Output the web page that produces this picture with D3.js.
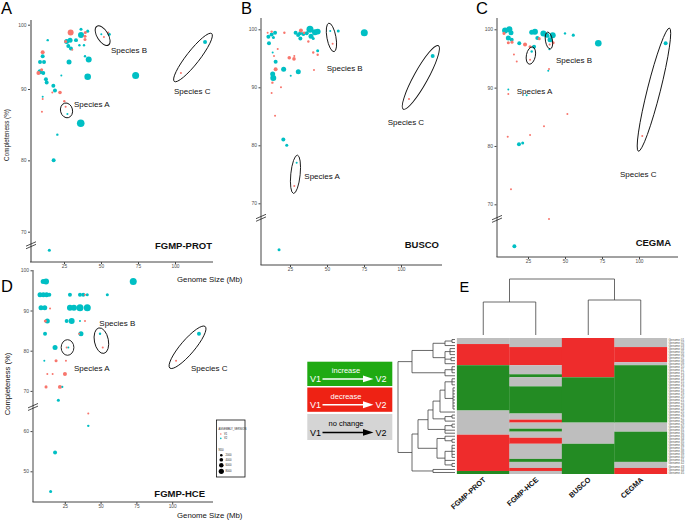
<!DOCTYPE html>
<html><head><meta charset="utf-8">
<script src="https://cdn.jsdelivr.net/npm/d3@7"></script>
<style>body{margin:0;background:#fff}svg{display:block;font-family:"Liberation Sans",Arial,sans-serif}</style>
</head><body><svg id="c" width="685" height="522"></svg>
<script>
// ---------- DATA ----------
// [genome size (Mb), completeness (%), N50, assembly version (1=V1,2=V2), species tag]
const protPoints = [
 [36.5,98.4,10600,2,''],[29.5,98.8,10600,1,''],[26.8,97.4,7400,2,''],[29.1,97.6,7400,2,''],
 [27.9,96.7,4700,2,''],[26.1,97.4,2700,1,''],[29.7,96.3,4700,2,''],[28.4,94.2,7400,2,''],
 [33.1,97.6,4700,2,''],[36.5,99.3,2700,2,''],[41.0,99.0,2700,2,''],[39.2,97.7,2700,1,''],
 [39.2,98.2,2700,1,''],[35.4,96.8,1700,2,''],[38.5,96.8,1700,2,''],[41.7,94.6,10600,2,''],
 [39.2,95.1,1700,2,''],[41.0,91.9,12900,2,''],[73.4,92.1,14500,2,''],[36.3,85.2,17000,2,''],
 [14.0,97.6,1700,2,''],[10.6,95.7,4700,1,''],[10.6,95.1,4700,2,''],[8.8,94.2,4700,2,''],
 [11.5,94.2,4700,2,''],[9.9,93.0,2700,1,''],[8.8,92.7,7400,2,''],[11.0,92.5,4700,2,''],
 [7.7,92.5,4700,1,''],[12.8,91.5,4700,2,''],[13.3,91.0,4700,2,''],[10.6,88.9,1200,2,''],
 [10.6,88.6,1200,1,''],[10.1,86.8,1200,1,''],[17.8,90.5,4700,2,''],[18.9,89.8,4700,2,''],
 [22.3,89.5,3800,1,''],[17.1,89.5,1200,1,''],[23.2,92.1,1200,2,''],[25.2,88.3,1700,1,''],
 [26.1,87.5,1200,1,'A'],[27.3,86.5,1200,2,'A'],[20.5,83.6,1700,2,''],[18.0,80.0,4700,2,''],
 [15.1,67.4,2700,2,''],[50.2,98.5,1200,2,'B'],[52.0,98.1,1200,1,'B'],[55.6,98.5,2700,2,''],
 [54.9,98.8,1200,1,''],[104.0,92.5,1200,1,'C'],[120.3,97.3,4700,2,'C'],[39.4,98.8,2700,1,''],
 [30.6,96.1,1200,1,'']
];
const buscoPoints = [
 [38.5,100.0,14500,2,''],[41.9,99.5,10600,2,''],[43.7,99.6,10600,2,''],[39.2,98.8,7400,2,''],
 [36.3,99.3,4700,2,''],[31.8,99.3,4700,2,''],[28.8,99.4,4700,2,''],[32.0,98.4,4700,2,''],
 [32.4,99.8,4700,1,''],[34.5,99.4,1700,1,''],[37.4,97.9,1700,1,''],[40.7,98.4,2700,2,''],
 [75.2,99.4,14500,2,''],[57.6,99.7,2700,2,''],[52.2,99.7,1200,2,'B'],[53.8,97.5,1200,1,'B'],
 [43.7,96.3,2700,2,''],[43.7,95.6,1700,1,''],[40.7,96.0,1700,1,''],[41.2,93.0,1200,1,''],
 [10.4,98.7,4700,2,''],[12.6,99.1,4700,2,''],[14.9,99.4,4700,2,''],[13.8,98.6,2700,2,''],
 [12.6,99.6,1700,1,''],[10.8,97.6,4700,2,''],[21.2,99.4,1700,1,''],[13.3,96.0,1200,2,''],
 [14.2,95.4,1200,1,''],[15.3,94.4,4700,2,''],[16.7,96.6,1200,1,''],[24.5,95.1,3800,1,''],
 [27.7,94.9,3800,1,''],[27.9,95.4,1200,1,''],[20.7,93.1,7400,2,''],[15.3,93.1,4700,1,''],
 [13.3,92.3,7400,2,''],[13.7,91.6,10600,2,''],[30.6,92.7,7400,2,''],[25.5,92.0,1200,2,''],
 [13.1,90.8,1700,1,''],[18.9,90.0,1200,1,''],[12.6,89.0,1200,1,''],[14.9,85.1,1200,1,''],
 [20.5,81.0,4700,2,''],[22.8,80.0,2700,2,''],[29.5,77.0,1200,2,'A'],[27.9,73.0,1200,1,'A'],
 [17.6,62.0,2700,2,''],[121.4,95.4,4700,2,'C'],[105.4,88.0,1200,1,'C'],[9.9,99.4,1200,1,''],
 [30.5,99.0,4700,2,''],[34.0,99.2,4700,2,'']
];
const cegmaPoints = [
 [9.5,99.8,10600,2,''],[12.4,100.0,10600,2,''],[13.5,99.4,7400,2,''],[11.7,98.5,7400,2,''],
 [14.0,98.2,4700,2,''],[8.8,99.3,2700,1,''],[11.7,97.7,2700,1,''],[14.2,97.8,2700,1,''],
 [19.1,97.6,4700,2,''],[23.0,97.4,4700,1,''],[26.4,97.0,2700,1,''],[27.5,99.5,7400,2,''],
 [29.7,99.6,10600,2,''],[31.3,98.5,4700,2,''],[29.1,97.0,4700,2,''],[32.6,98.4,2700,1,''],
 [35.4,99.3,10600,2,''],[37.6,99.0,7400,2,''],[39.9,98.2,7400,2,''],[41.7,99.0,10600,2,''],
 [38.7,98.75,1700,2,'B'],[39.6,97.4,1200,1,'B'],[42.0,97.7,2700,1,''],[39.4,96.6,1200,2,''],
 [50.0,99.3,1700,2,''],[55.6,99.0,2700,2,''],[72.5,97.6,12900,2,''],[27.5,96.2,1700,2,'A'],
 [26.4,94.8,1200,1,'A'],[15.5,95.7,1200,1,''],[17.4,94.5,1200,1,''],[38.7,92.9,1200,2,''],
 [39.2,93.2,1200,1,''],[11.7,89.7,1200,2,''],[11.7,88.9,1200,1,''],[24.1,88.7,1200,2,''],
 [51.6,85.5,1200,1,''],[35.8,83.4,1200,1,''],[26.4,81.9,1200,1,''],[11.3,81.6,1200,1,''],
 [18.9,80.3,4700,2,''],[21.4,80.5,2700,2,''],[13.5,72.6,1200,1,''],[39.2,67.5,1200,1,''],
 [15.8,62.8,4700,2,''],[118.0,97.6,4700,2,'C'],[102.2,81.7,1200,1,'C']
];
const hcePoints = [
 [11.9,97.2,10600,2,''],[9.9,97.2,7400,2,''],[7.7,93.9,7400,2,''],[10.0,93.9,7400,2,''],
 [12.3,93.9,7400,2,''],[14.2,93.9,4700,2,''],[8.4,90.7,7400,2,''],[11.0,90.7,7400,2,''],
 [14.7,90.5,1200,1,''],[11.4,87.4,2700,1,''],[12.8,87.4,7400,2,''],[11.2,84.2,4700,2,''],
 [18.2,80.8,7400,2,''],[26.3,80.8,1200,1,'A'],[27.5,80.8,1200,2,'A'],[10.7,77.5,1200,2,''],
 [18.9,77.5,2700,1,''],[25.8,77.5,1200,1,''],[12.8,74.2,1200,1,''],[16.5,74.2,1200,1,''],
 [25.1,74.2,4700,1,''],[11.9,71.0,2700,1,''],[21.6,71.0,4700,1,''],[23.3,71.0,1200,2,''],
 [20.5,67.7,2700,2,''],[28.6,93.9,4700,2,''],[35.6,93.9,4700,2,''],[37.9,93.9,4700,2,''],
 [39.1,93.9,1200,1,''],[40.7,93.9,2700,2,''],[28.6,90.7,10600,2,''],[31.4,90.7,10600,2,''],
 [35.6,90.7,14500,2,''],[40.7,90.7,14500,2,''],[29.8,87.4,10600,2,''],[26.3,87.4,4700,2,''],
 [35.6,87.4,1200,2,''],[39.1,87.4,1200,1,''],[36.3,84.2,7400,2,''],[35.0,84.2,1200,1,''],
 [54.7,93.9,2700,2,''],[72.8,97.2,14500,2,''],[49.6,84.2,1700,2,'B'],[51.5,80.8,1200,1,'B'],
 [41.4,64.4,1200,1,''],[41.4,61.3,1700,2,''],[18.2,54.7,4700,2,''],[15.1,45.0,2700,2,''],
 [118.7,84.2,4700,2,'C'],[102.7,77.5,1200,1,'C']
];
const xTickVals = [25,50,75,100];
const yTicksTop = [70,80,90,100];
const yTicksHce = [50,60,70,80,90,100];
const versionLabels = ['V1','V2'];
const n50Legend = [2000,4000,6000,8000];

// heatmap: 1 = increase, -1 = decrease, 0 = no change
const hmCols = ['FGMP-PROT','FGMP-HCE','BUSCO','CEGMA'];
const hmProt  = [0,0,-1,-1,-1,-1,-1,-1,-1,1,1,1,1,1,1,1,1,1,1,1,1,1,1,1,0,0,0,0,0,0,0,0,-1,-1,-1,-1,-1,-1,-1,-1,-1,-1,-1,-1,1];
const hmHce   = [0,0,0,-1,-1,-1,-1,-1,-1,0,0,0,1,0,0,0,1,1,1,1,1,1,1,1,1,0,0,-1,0,0,1,0,0,-1,-1,0,0,0,0,0,1,0,0,-1,0];
const hmBusco = [-1,-1,-1,-1,-1,-1,-1,-1,-1,-1,-1,-1,-1,1,1,1,1,1,1,1,1,1,1,1,1,1,1,1,0,0,0,0,0,0,0,1,1,1,1,1,1,1,1,1,1];
const hmCegma = [0,0,0,-1,-1,-1,-1,-1,0,1,1,1,1,1,1,1,1,1,1,1,1,1,1,1,1,1,1,1,0,0,0,1,1,1,1,1,1,1,1,1,1,0,0,-1,-1];
const rowLabels = ['Genome 01','Genome 02','Genome 03','Genome 04','Genome 05','Genome 06','Genome 07','Genome 08','Genome 09','Genome 10',
 'Genome 11','Genome 12','Genome 13','Genome 14','Genome 15','Genome 16','Genome 17','Genome 18','Genome 19','Genome 20',
 'Genome 21','Genome 22','Genome 23','Genome 24','Genome 25','Genome 26','Genome 27','Genome 28','Genome 29','Genome 30',
 'Genome 31','Genome 32','Genome 33','Genome 34','Genome 35','Genome 36','Genome 37','Genome 38','Genome 39','Genome 40',
 'Genome 41','Genome 42','Genome 43','Genome 44','Genome 45'];
// dendrograms: {h: merge height, c: children}; leaves are row / column indices
const N = (h, ...c) => ({h, c});
const rowTree = N(5.7,
  N(4.3,
    N(2.2, N(1.0, N(0.3,0,1), 2), N(1.0, N(0.5,3,4,5), N(0.4,6,7), 8)),
    N(1.0, N(0.3,9,10,11), 12)),
  N(4.3,
    N(3.7,
      N(2.7,
        N(2.2,
          N(1.5, N(1.0, N(0.3,13,14,15), N(0.2,16,17,18,19,20,21,22,23)), 24),
          N(1.0, N(0.3,25,26), 27)),
        N(1.0, N(0.3,28,29), 30, 31)),
      N(1.8,
        N(1.0, 32, N(0.3,33,34)),
        N(1.0, N(0.3,35,36,37,38,39), 40, N(0.3,41,42)))),
    N(2.2, 43, 44)));
const colTree = N(5.6, N(3.3,0,1), N(3.5,2,3));

// ---------- DRAW ----------
const svg = d3.select('#c');
const FONT = '"Liberation Sans",Arial,sans-serif';
const verColor = d3.scaleOrdinal().domain([1,2]).range(['#F8766D','#00BFC4']);
const rScale = d3.scaleSqrt().domain([0,8000]).range([0,2.6]);

const panels = [
 {letter:'A', lp:[1,14], pts:protPoints, name:'FGMP-PROT', np:[212,249],
  x:d3.scaleLinear().domain([0,100]).range([27,175]),
  y:d3.scaleLinear().domain([70,90,100]).range([231.7,89,24.7]),
  axX:31, axTop:20, axBottom:262, axRight:213, yTicks:yTicksTop, brk:68.1, yCol:'#9a9a9a', yW:2,
  ell:{A:[3.8,6],B:[9.2,5.5,58],C:[10.8,6.5]}, lab:{A:[74,106.7],B:[111,52.7],C:[174,94]},
  ytitle:[6.5,135,6.3], xtitle:[177,282]},
 {letter:'B', lp:[241,14], pts:buscoPoints, name:'BUSCO', np:[439,248],
  x:d3.scaleLinear().domain([0,100]).range([253,401]),
  y:d3.scaleLinear().domain([70,100]).range([203.3,29.3]),
  axX:261, axTop:18, axBottom:265, axRight:442, yTicks:yTicksTop, brk:67.5, yCol:'#444', yW:1,
  ell:{A:[7.6,4.7],B:[8,4.5],C:[11.8,7]}, lab:{A:[304.3,179],B:[326.7,71],C:[387.7,125]}},
 {letter:'C', lp:[476,14], pts:cegmaPoints, name:'CEGMA', np:[671,246],
  x:d3.scaleLinear().domain([0,100]).range([491,639]),
  y:d3.scaleLinear().domain([70,100]).range([204.3,29.3]),
  axX:497, axTop:18, axBottom:257, axRight:678, yTicks:yTicksTop, brk:67.5, yCol:'#444', yW:1,
  ell:{A:[4.6,4.5],B:[4.5,3.5],C:[15.7,6.5]}, lab:{A:[516.7,94],B:[556,63],C:[620,177]}},
 {letter:'D', lp:[1,292], pts:hcePoints, name:'FGMP-HCE', np:[205,497],
  x:d3.scaleLinear().domain([0,100]).range([29,172.2]),
  y:d3.scaleLinear().domain([50,100]).range([471.3,270.3]),
  axX:33, axTop:270, axBottom:502, axRight:213, yTicks:yTicksHce, brk:66, yCol:'#444', yW:1,
  ell:{A:[5.5,7.8],B:[6,7],C:[9.6,7]}, lab:{A:[74,370.7],B:[99.3,325.7],C:[191,370.7]},
  ytitle:[7,384,7.6], xtitle:[177,518]}
];

panels.forEach(p => {
  const g = svg.append('g');
  g.append('line').attr('x1',p.axX).attr('x2',p.axX).attr('y1',p.axTop).attr('y2',p.axBottom)
   .attr('stroke',p.yCol).attr('stroke-width',p.yW);
  g.append('line').attr('x1',p.axX-p.yW/2).attr('x2',p.axRight).attr('y1',p.axBottom).attr('y2',p.axBottom)
   .attr('stroke','#444').attr('stroke-width',1);
  const yg = g.append('g').attr('transform',`translate(${p.axX - p.yW/2},0)`)
    .call(d3.axisLeft(p.y).tickValues(p.yTicks).tickSize(2).tickPadding(1.5));
  yg.select('.domain').remove();
  yg.attr('font-size',5).attr('font-family',FONT);
  yg.selectAll('text').attr('fill','#4d4d4d');
  yg.selectAll('line').attr('stroke','#444');
  const xg = g.append('g').attr('transform',`translate(0,${p.axBottom})`)
    .call(d3.axisBottom(p.x).tickValues(xTickVals).tickSize(2).tickPadding(1));
  xg.select('.domain').remove();
  xg.attr('font-size',4.8).attr('font-family',FONT);
  xg.selectAll('text').attr('fill','#4d4d4d');
  xg.selectAll('line').attr('stroke','#444');
  // axis break
  const by = p.y(p.brk);
  [-1.3,1.3].forEach(o => {
    g.append('line').attr('x1',p.axX-5).attr('x2',p.axX+5).attr('y1',by+o+2.2).attr('y2',by+o-2.2)
     .attr('stroke','#222').attr('stroke-width',0.8);
  });
  // points
  const pts = p.pts.slice().sort((a,b)=>b[2]-a[2]);
  g.selectAll('circle.pt').data(pts).join('circle').attr('class','pt')
   .attr('cx',d=>p.x(d[0])).attr('cy',d=>p.y(d[1])).attr('r',d=>rScale(d[2]))
   .attr('fill',d=>verColor(d[3]));
  // species ellipses & labels
  ['A','B','C'].forEach(tag => {
    const sp = p.pts.filter(d=>d[4]===tag).map(d=>[p.x(d[0]),p.y(d[1])]);
    const [a,b] = sp;
    const cx=(a[0]+b[0])/2, cy=(a[1]+b[1])/2;
    const half = Math.hypot(b[0]-a[0], b[1]-a[1])/2;
    const e = p.ell[tag];
    const ang = e[2] !== undefined ? e[2] : Math.atan2(b[1]-a[1], b[0]-a[0])*180/Math.PI;
    g.append('ellipse').attr('cx',cx).attr('cy',cy).attr('rx',half+e[0]).attr('ry',e[1])
     .attr('transform',`rotate(${ang},${cx},${cy})`).attr('fill','none').attr('stroke','#111').attr('stroke-width',0.9);
    g.append('text').attr('x',p.lab[tag][0]).attr('y',p.lab[tag][1]).attr('font-size',8).attr('fill','#111')
     .text('Species '+tag);
  });
  g.append('text').attr('x',p.np[0]).attr('y',p.np[1]).attr('text-anchor','end').attr('font-size',9.5)
   .attr('font-weight','bold').attr('fill','#111').text(p.name);
  svg.append('text').attr('x',p.lp[0]).attr('y',p.lp[1]).attr('font-size',16.5).text(p.letter);
  if (p.ytitle) {
    svg.append('text').attr('transform',`translate(${p.ytitle[0]+p.ytitle[2]*0.35},${p.ytitle[1]}) rotate(-90)`)
     .attr('text-anchor','middle').attr('font-size',p.ytitle[2]).attr('fill','#111').text('Completeness (%)');
  }
  if (p.xtitle) {
    svg.append('text').attr('x',p.xtitle[0]).attr('y',p.xtitle[1]).attr('font-size',7.8).attr('fill','#111')
     .text('Genome Size (Mb)');
  }
});

// ---- legend in D ----
{
  const g = svg.append('g');
  g.append('rect').attr('x',216.5).attr('y',420).attr('width',28.5).attr('height',57)
   .attr('fill','#fff').attr('stroke','#111').attr('stroke-width',0.8);
  g.append('text').attr('x',218.5).attr('y',430).attr('font-size',2.7).attr('fill','#222').text('ASSEMBLY_VERSION');
  versionLabels.forEach((v,i) => {
    const yy = 434 + i*4.4;
    g.append('circle').attr('cx',220.8).attr('cy',yy).attr('r',0.8).attr('fill',verColor(i+1));
    g.append('text').attr('x',224).attr('y',yy+1).attr('font-size',2.7).attr('fill','#222').text(v);
  });
  g.append('text').attr('x',218.5).attr('y',451).attr('font-size',2.8).attr('fill','#222').text('N50');
  let yy = 455.3;
  n50Legend.forEach((v,i) => {
    const r = rScale(v);
    if (i>0) yy += rScale(n50Legend[i-1]) + r + 1.3;
    g.append('circle').attr('cx',221.3).attr('cy',yy).attr('r',r).attr('fill','#000');
    g.append('text').attr('x',225.5).attr('y',yy+1).attr('font-size',2.7).attr('fill','#222').text(v);
  });
}

// ---- arrow legend ----
{
  const boxes = [
    {y:361.7, h:24.3, fill:'#1faa12', fg:'#fff', label:'increase'},
    {y:387.5, h:24.3, fill:'#ee2214', fg:'#fff', label:'decrease'},
    {y:414, h:26, fill:'#d5d5d5', fg:'#000', label:'no change'}
  ];
  boxes.forEach(b => {
    const g = svg.append('g');
    g.append('rect').attr('x',307.3).attr('y',b.y).attr('width',85).attr('height',b.h).attr('fill',b.fill);
    const ay = b.y + b.h*0.71;
    g.append('text').attr('x',346).attr('y',b.y+11.5).attr('text-anchor','middle').attr('font-size',7.5)
     .attr('fill',b.fg).text(b.label);
    g.append('text').attr('x',310).attr('y',ay+3.3).attr('font-size',9).attr('fill',b.fg).text('V1');
    g.append('text').attr('x',375.5).attr('y',ay+3.3).attr('font-size',9).attr('fill',b.fg).text('V2');
    g.append('line').attr('x1',322.5).attr('x2',365).attr('y1',ay).attr('y2',ay).attr('stroke',b.fg).attr('stroke-width',1.6);
    g.append('path').attr('d',`M363,${ay-3.4}L373.5,${ay}L363,${ay+3.4}Z`).attr('fill',b.fg);
  });
}

// ---- heatmap ----
{
  const hmData = [hmProt, hmHce, hmBusco, hmCegma];
  const nRows = hmProt.length;
  const hx = d3.scaleBand().domain(d3.range(hmCols.length)).range([457,667]);
  const hy = d3.scaleBand().domain(d3.range(nRows)).range([338,474]);
  const hcol = d3.scaleOrdinal().domain([-1,0,1]).range(['#EE2C2C','#BEBEBE','#238B23']);
  const g = svg.append('g');
  hmData.forEach((col,ci) => {
    // merge consecutive cells of equal value into runs (avoids hairline seams)
    const runs = [];
    col.forEach((v,i) => {
      const last = runs[runs.length-1];
      if (last && last.v === v) last.end = i; else runs.push({v, start:i, end:i});
    });
    g.selectAll(null).data(runs).join('rect')
     .attr('x',hx(ci)-0.15).attr('y',d=>hy(d.start)).attr('width',hx.bandwidth()+0.3)
     .attr('height',d=>hy(d.end)+hy.bandwidth()-hy(d.start))
     .attr('fill',d=>hcol(d.v));
  });
  hmCols.forEach((c,ci) => {
    const cx = hx(ci)+hx.bandwidth()/2+3, cy = 480.5;
    g.append('text').attr('transform',`translate(${cx},${cy}) rotate(-42)`).attr('text-anchor','end')
     .attr('font-size',7.3).attr('font-weight','bold').attr('fill','#111').text(c);
  });
  g.selectAll('text.rl').data(rowLabels).join('text').attr('class','rl')
   .attr('x',668.5).attr('y',(d,i)=>hy(i)+hy.bandwidth()*0.85).attr('font-size',3).attr('fill','#555').text(d=>d);
  const rx = d3.scaleLinear().domain([0,5.7]).range([455,398]);
  const lineC = '#444';
  function drawRow(node){
    if (typeof node === 'number') return {x: rx(0), y: hy(node)+hy.bandwidth()/2};
    const ch = node.c.map(drawRow);
    const x = rx(node.h);
    ch.forEach(c => g.append('line').attr('x1',c.x).attr('x2',x).attr('y1',c.y).attr('y2',c.y)
      .attr('stroke',lineC).attr('stroke-width',0.8));
    const y0 = ch[0].y, y1 = ch[ch.length-1].y;
    g.append('line').attr('x1',x).attr('x2',x).attr('y1',y0).attr('y2',y1).attr('stroke',lineC).attr('stroke-width',0.8);
    return {x, y:(y0+y1)/2};
  }
  drawRow(rowTree);
  const cy = d3.scaleLinear().domain([0,5.6]).range([335,279]);
  function drawCol(node){
    if (typeof node === 'number') return {x: hx(node)+hx.bandwidth()/2, y: cy(0)};
    const ch = node.c.map(drawCol);
    const y = cy(node.h);
    ch.forEach(c => g.append('line').attr('x1',c.x).attr('x2',c.x).attr('y1',c.y).attr('y2',y)
      .attr('stroke',lineC).attr('stroke-width',0.8));
    const x0 = ch[0].x, x1 = ch[ch.length-1].x;
    g.append('line').attr('x1',x0).attr('x2',x1).attr('y1',y).attr('y2',y).attr('stroke',lineC).attr('stroke-width',0.8);
    return {x:(x0+x1)/2, y};
  }
  drawCol(colTree);
  svg.append('text').attr('x',459.5).attr('y',292).attr('font-size',14.5).text('E');
}
</script>
</body></html>
